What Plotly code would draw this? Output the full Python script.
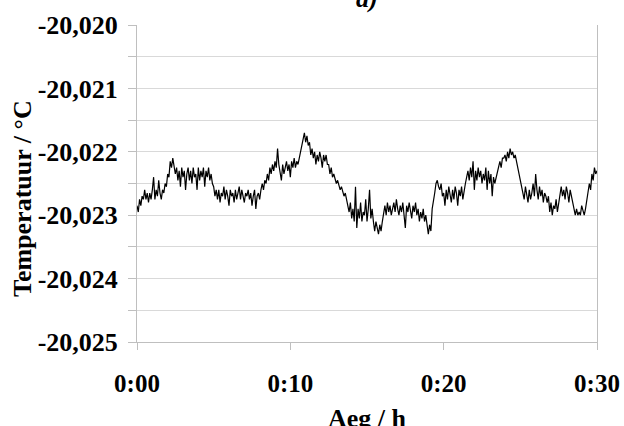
import numpy as np
import plotly.graph_objects as go

# temperature readings over 30 minutes
temperatuur = [
    -20.02285, -20.02295, -20.02275, -20.02285, -20.0227,
    -20.02275, -20.0226, -20.02275, -20.02265, -20.0228, -20.02265, -20.02275, -20.0226, -20.0224, -20.02275,
    -20.0226, -20.0227, -20.02245, -20.02265, -20.02275, -20.0226,
    -20.02265, -20.0225, -20.02255, -20.02235, -20.0224,
    -20.02215, -20.02225, -20.0221, -20.0222,
    -20.02235, -20.02225, -20.02245, -20.0223, -20.02255, -20.02225, -20.0224, -20.0223, -20.0226, -20.02235,
    -20.02225, -20.02245, -20.0223, -20.0225, -20.02225, -20.0224, -20.02235, -20.0226, -20.02225, -20.02245,
    -20.0223, -20.0224, -20.02225, -20.02255, -20.0223, -20.0224, -20.02225, -20.02245, -20.02235, -20.0225,
    -20.02255, -20.0227, -20.0226, -20.02275, -20.0226, -20.0228, -20.02265, -20.0227, -20.02255, -20.02275,
    -20.0226, -20.0227, -20.02285, -20.0226, -20.0227, -20.02265, -20.0228, -20.0226, -20.02275, -20.02265,
    -20.02255, -20.02275, -20.0226, -20.0227, -20.0228, -20.02265, -20.0227, -20.0226, -20.02275, -20.02265,
    -20.02285, -20.0227, -20.0226, -20.0229, -20.0227, -20.02265, -20.02275,
    -20.0226, -20.0225, -20.0226, -20.02245, -20.0225, -20.02235, -20.02245,
    -20.02225, -20.02235, -20.0222, -20.0223, -20.02215, -20.02225, -20.02195, -20.0222, -20.0223, -20.02245,
    -20.0222, -20.02235, -20.02225, -20.02215, -20.0223, -20.0222, -20.0224, -20.02215, -20.02225, -20.0221,
    -20.02225, -20.02215, -20.0222, -20.0221,
    -20.02205, -20.0219, -20.0218, -20.0217, -20.02185, -20.02175, -20.0219, -20.02185,
    -20.02205, -20.02195, -20.0221, -20.022, -20.0222, -20.02205, -20.02215, -20.022, -20.0221, -20.02225,
    -20.02205, -20.02215, -20.02205, -20.0222,
    -20.0222, -20.02235, -20.02225, -20.0224, -20.02235, -20.02245, -20.0225, -20.02245, -20.02255, -20.0226,
    -20.02255, -20.02265, -20.0227, -20.02265, -20.02275,
    -20.02285, -20.02295, -20.0228, -20.02305, -20.0229, -20.0231, -20.02255, -20.0232, -20.0229, -20.02305,
    -20.0228, -20.0231, -20.02295, -20.023, -20.02275, -20.0231, -20.0229, -20.0226, -20.02305, -20.0229,
    -20.0231, -20.02325, -20.0231, -20.0232, -20.0233, -20.02315, -20.02325, -20.0231,
    -20.02295, -20.02285, -20.023, -20.0228, -20.02295, -20.02285, -20.023, -20.0229, -20.0228, -20.02295,
    -20.02275, -20.0229, -20.023, -20.02285, -20.02295, -20.0228, -20.023, -20.0232, -20.02285, -20.02295,
    -20.0228, -20.0229, -20.02305, -20.02285, -20.02295, -20.0228, -20.023, -20.0229, -20.0231, -20.02295,
    -20.02305, -20.0229, -20.0231, -20.023,
    -20.0232, -20.0233, -20.02315, -20.02325,
    -20.0229, -20.0228, -20.02265, -20.0225, -20.02245, -20.02255,
    -20.0226, -20.0225, -20.0227, -20.02265, -20.02285, -20.0226, -20.02275, -20.02255, -20.0227, -20.0228,
    -20.0226, -20.02275, -20.02255, -20.02265, -20.02285, -20.0226, -20.0227, -20.02255, -20.02275, -20.0226,
    -20.0225,
    -20.0224, -20.0223, -20.02245, -20.02225, -20.0224, -20.02215, -20.0226, -20.0223, -20.02245, -20.02225,
    -20.0224, -20.0223, -20.0225, -20.02235, -20.02245, -20.02225, -20.0226, -20.0223, -20.0225, -20.02235,
    -20.0227, -20.0224, -20.0225, -20.0224,
    -20.0223, -20.0222, -20.02215, -20.02225, -20.0221,
    -20.0221, -20.02205, -20.02215, -20.022, -20.0221, -20.02195, -20.02205, -20.022, -20.0221, -20.02205,
    -20.02215,
    -20.02225, -20.0223, -20.0224, -20.0225,
    -20.0226, -20.02275, -20.02255, -20.0227, -20.0228, -20.0226, -20.02275, -20.02265, -20.0225, -20.0227,
    -20.02235, -20.0226, -20.02275, -20.02255, -20.0227, -20.0226, -20.0228, -20.02265, -20.0227,
    -20.0228, -20.0227, -20.02295, -20.0228, -20.023, -20.02285, -20.0229, -20.02275, -20.02295, -20.0228,
    -20.0227, -20.02255, -20.0227, -20.0226, -20.02275, -20.02255, -20.02265, -20.0228, -20.0226, -20.0227,
    -20.02285, -20.02295, -20.023, -20.0229, -20.023, -20.02295, -20.023, -20.02285, -20.02295, -20.023,
    -20.0229,
    -20.02275, -20.0226, -20.0225, -20.0226, -20.02235, -20.02245, -20.02225, -20.02235, -20.0223,
]
aeg_min = np.linspace(0, 30, len(temperatuur))

x_ticks = [0, 10, 20, 30]
x_labels = ['0:00', '0:10', '0:20', '0:30']
y_ticks = [-20.025, -20.0245, -20.024, -20.0235, -20.023, -20.0225,
           -20.022, -20.0215, -20.021, -20.0205, -20.020]
y_labels = ['-20,025', '', '-20,024', '', '-20,023', '', '-20,022', '', '-20,021', '', '-20,020']

font = 'Liberation Serif'

fig = go.Figure()
fig.add_trace(go.Scatter(x=aeg_min, y=temperatuur, mode='lines',
                         line=dict(color='black', width=1.2)))

fig.update_layout(
    width=624, height=426,
    margin=dict(l=137, r=27, t=25, b=84),
    paper_bgcolor='white', plot_bgcolor='white',
    showlegend=False,
    font=dict(family=font, size=26, color='black'),
    annotations=[
        dict(text='<b><i>a)</i></b>', x=0.5, y=1, xref='paper', yref='paper',
             xanchor='center', yanchor='bottom', yshift=10, showarrow=False,
             font=dict(size=26)),
        dict(text='<b>Temperatuur / °C</b>', x=-0.25, y=0.451, xref='paper', yref='paper',
             xanchor='center', yanchor='middle', textangle=-90, showarrow=False,
             font=dict(size=26)),
        dict(text='<b>Aeg / h</b>', x=0.5, y=-0.19, xref='paper', yref='paper',
             xanchor='center', yanchor='top', showarrow=False,
             font=dict(size=26)),
    ],
)

fig.update_xaxes(
    range=[0, 30], tickvals=x_ticks, ticktext=['<b>%s</b>' % t for t in x_labels],
    tickfont=dict(size=25),
    showgrid=False, zeroline=False, automargin=False,
    showline=True, linecolor='#BFBFBF', linewidth=1,
    ticks='outside', ticklen=7, tickcolor='#BFBFBF', ticklabelstandoff=12,
)
fig.update_yaxes(
    range=[-20.025, -20.020], tickvals=y_ticks,
    ticktext=['<b>%s</b>' % t if t else '' for t in y_labels],
    showgrid=True, gridcolor='#D9D9D9', gridwidth=1, zeroline=False, automargin=False,
    showline=True, linecolor='#BFBFBF', linewidth=1, mirror=True,
    ticks='outside', ticklen=8, tickcolor='#BFBFBF', ticklabelstandoff=5,
)

# drop the default page margin so the figure fills the window exactly
fig.write_html('out.html', config={'displayModeBar': False},
               post_script="document.body.style.margin='0';document.body.style.overflow='hidden';")
